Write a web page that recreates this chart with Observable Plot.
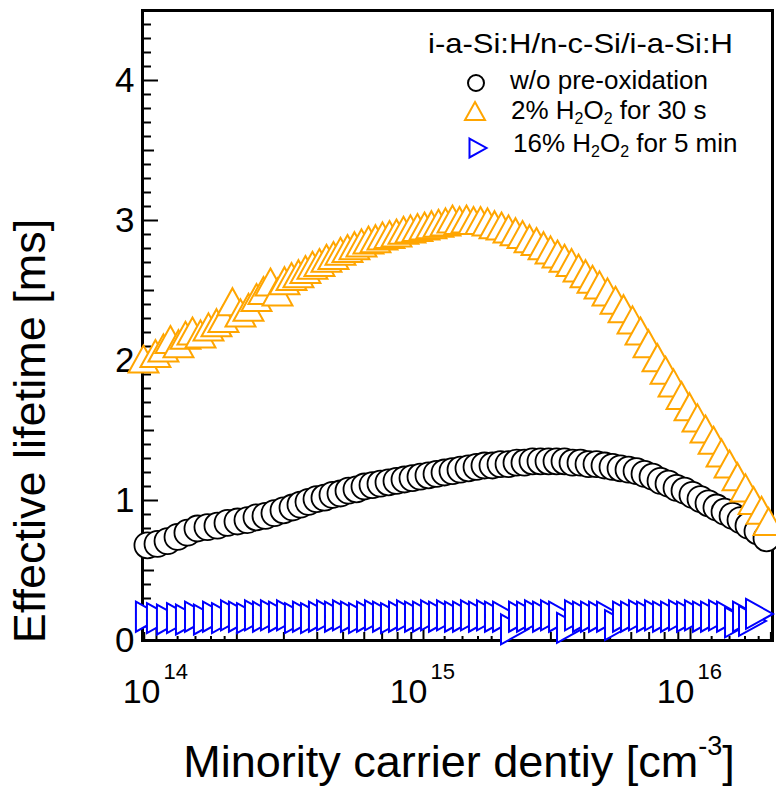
<!DOCTYPE html>
<html>
<head>
<meta charset="utf-8">
<script src="https://cdn.jsdelivr.net/npm/d3@7"></script>
<script src="https://cdn.jsdelivr.net/npm/@observablehq/plot@0.6"></script>
<style>
  body { margin: 0; background: #fff; }
  #chart { width: 776px; height: 788px; }
  #chart svg { display: block; overflow: visible; }
</style>
</head>
<body>
<div id="chart"></div>
<script>
// ---------------- data ----------------
// w/o pre-oxidation (black circles)
const circN = [9.25e13,1.009e14,1.10e14,1.199e14,1.306e14,1.424e14,1.552e14,1.692e14,1.845e14,2.011e14,2.192e14,2.369e14,2.560e14,2.766e14,2.990e14,3.232e14,3.462e14,3.709e14,3.975e14,4.258e14,4.562e14,4.888e14,5.238e14,5.612e14,6.012e14,6.442e14,6.902e14,7.395e14,7.923e14,8.489e14,9.095e14,9.745e14,1.044e15,1.119e15,1.199e15,1.284e15,1.376e15,1.474e15,1.580e15,1.692e15,1.813e15,1.943e15,2.082e15,2.230e15,2.389e15,2.560e15,2.743e15,2.939e15,3.149e15,3.374e15,3.615e15,3.873e15,4.150e15,4.446e15,4.764e15,5.104e15,5.469e15,5.860e15,6.279e15,6.727e15,7.208e15,7.722e15,8.274e15,8.865e15,9.496e15,1.017e16,1.090e16,1.168e16,1.251e16,1.341e16,1.437e16,1.539e16,1.649e16,1.782e16,1.926e16];
const circTau = [0.68,0.69,0.71,0.74,0.77,0.80,0.81,0.82,0.84,0.85,0.86,0.88,0.89,0.91,0.93,0.95,0.97,0.99,1.01,1.02,1.04,1.05,1.07,1.08,1.10,1.11,1.12,1.13,1.14,1.15,1.16,1.17,1.18,1.19,1.20,1.21,1.22,1.23,1.24,1.25,1.25,1.26,1.26,1.27,1.27,1.28,1.28,1.28,1.28,1.28,1.27,1.27,1.26,1.26,1.25,1.24,1.23,1.22,1.21,1.19,1.17,1.14,1.12,1.09,1.07,1.04,1.01,0.98,0.95,0.92,0.89,0.86,0.82,0.78,0.73];

// 2% H2O2 for 30 s (orange triangles)
const triN = [8.94e13,9.91e13,1.062e14,1.128e14,1.209e14,1.284e14,1.364e14,1.462e14,1.566e14,1.678e14,1.782e14,1.926e14,2.064e14,2.211e14,2.369e14,2.516e14,2.673e14,2.840e14,3.016e14,3.204e14,3.402e14,3.614e14,3.839e14,4.078e14,4.332e14,4.601e14,4.888e14,5.193e14,5.514e14,5.859e14,6.223e14,6.610e14,7.022e14,7.460e14,7.923e14,8.416e14,8.939e14,9.495e14,1.009e15,1.071e15,1.138e15,1.209e15,1.284e15,1.364e15,1.449e15,1.539e15,1.635e15,1.737e15,1.845e15,1.960e15,2.082e15,2.211e15,2.349e15,2.495e15,2.650e15,2.815e15,2.991e15,3.176e15,3.374e15,3.584e15,3.807e15,4.044e15,4.295e15,4.563e15,4.888e15,5.238e15,5.612e15,6.065e15,6.497e15,6.962e15,7.522e15,8.062e15,8.638e15,9.255e15,9.915e15,1.062e16,1.138e16,1.220e16,1.307e16,1.400e16,1.500e16,1.607e16,1.722e16,1.845e16,1.960e16];
const triTau = [2.01,2.05,2.09,2.15,2.12,2.18,2.21,2.19,2.24,2.27,2.30,2.42,2.34,2.38,2.45,2.50,2.56,2.49,2.57,2.60,2.62,2.65,2.68,2.70,2.73,2.75,2.78,2.80,2.82,2.84,2.86,2.87,2.89,2.90,2.91,2.93,2.94,2.95,2.96,2.97,2.98,2.99,3.01,3.00,3.01,3.00,3.00,2.99,2.97,2.96,2.94,2.92,2.90,2.87,2.85,2.82,2.79,2.76,2.73,2.70,2.66,2.62,2.58,2.54,2.49,2.43,2.37,2.29,2.21,2.12,2.02,1.93,1.84,1.75,1.67,1.59,1.51,1.43,1.34,1.26,1.17,1.09,1.00,0.93,0.85];

// 16% H2O2 for 5 min (blue right-pointing triangles)
const rtN = [9.41e13,1.035e14,1.128e14,1.230e14,1.329e14,1.437e14,1.552e14,1.678e14,1.813e14,1.960e14,2.099e14,2.249e14,2.410e14,2.582e14,2.766e14,2.964e14,3.176e14,3.402e14,3.645e14,3.906e14,4.184e14,4.484e14,4.804e14,5.147e14,5.514e14,5.908e14,6.331e14,6.783e14,7.268e14,7.787e14,8.344e14,8.939e14,9.578e14,1.026e15,1.100e15,1.178e15,1.262e15,1.352e15,1.449e15,1.552e15,1.663e15,1.782e15,1.909e15,2.046e15,2.192e15,2.349e15,2.516e15,2.696e15,2.889e15,3.095e15,3.317e15,3.553e15,3.807e15,4.079e15,4.370e15,4.682e15,5.016e15,5.375e15,5.759e15,6.170e15,6.611e15,7.083e15,7.590e15,8.132e15,8.712e15,9.333e15,1.000e16,1.071e16,1.148e16,1.230e16,1.318e16,1.412e16,1.513e16,1.621e16,1.707e16,1.813e16];
const rtTau = [0.17,0.16,0.15,0.16,0.15,0.17,0.15,0.17,0.16,0.18,0.17,0.16,0.18,0.17,0.18,0.17,0.18,0.16,0.17,0.16,0.17,0.18,0.17,0.18,0.17,0.16,0.17,0.18,0.17,0.16,0.17,0.18,0.17,0.17,0.18,0.17,0.18,0.17,0.17,0.18,0.17,0.18,0.17,0.17,0.08,0.17,0.17,0.18,0.17,0.18,0.17,0.09,0.18,0.17,0.17,0.17,0.17,0.11,0.17,0.17,0.18,0.17,0.18,0.17,0.17,0.18,0.17,0.18,0.17,0.17,0.18,0.17,0.13,0.17,0.14,0.19];

// tick labels / tick values
const yTickLabels = [0, 1, 2, 3, 4];
const xDecades = [1e14, 1e15, 1e16];
const xDecadeExp = ["14", "15", "16"];
const xMidTicks = [9e13, 2e14,3e14,4e14,5e14,6e14,7e14,8e14,9e14, 2e15,3e15,4e15,5e15,6e15,7e15,8e15,9e15, 2e16];
const xSmallTicks = [1.2e14,1.4e14,1.6e14,1.8e14, 1.2e15,1.4e15,1.6e15,1.8e15, 1.2e16,1.4e16,1.6e16,1.8e16];

const legendTitle = "i-a-Si:H/n-c-Si/i-a-Si:H";
const legendEntries = [
  [["w/o pre-oxidation", false]],
  [["2% H", false], ["2", true], ["O", false], ["2", true], [" for 30 s", false]],
  [["16% H", false], ["2", true], ["O", false], ["2", true], [" for 5 min", false]]
];
const yLabel = "Effective lifetime [ms]";
const xLabelParts = [["Minority carrier dentiy [cm", false], ["-3", true], ["]", false]];

// ---------------- build ----------------
const FONT = "'Liberation Sans', Arial, Helvetica, sans-serif";
const W = 776, H = 788, ML = 142, MR = 4, MT = 10, MB = 148;
const FW = W - ML - MR, FH = H - MT - MB;

const circles = circN.map((n, i) => ({n, tau: circTau[i]}));
const tris = triN.map((n, i) => ({n, tau: triTau[i]}));
const rts = rtN.map((n, i) => ({n, tau: rtTau[i]}));

const triUp = {
  draw(ctx, size) {
    const r = Math.sqrt(size / Math.PI);
    const w = r * 1.15, h = r * 1.04;
    ctx.moveTo(0, -h); ctx.lineTo(w, h); ctx.lineTo(-w, h); ctx.closePath();
  }
};
const triRight = {
  draw(ctx, size) {
    const r = Math.sqrt(size / Math.PI);
    const w = r * 1.0, h = r * 1.11;
    ctx.moveTo(-w, -h); ctx.lineTo(w, 0); ctx.lineTo(-w, h); ctx.closePath();
  }
};

const yAll = d3.range(1, 45).map(i => i / 10);
const yMinor = yAll.filter(v => Math.abs(v * 2 - Math.round(v * 2)) > 1e-6);
const yHalf = [0.5, 1.5, 2.5, 3.5];
const yMajor = [1, 2, 3, 4];

const chart = Plot.plot({
  width: W, height: H,
  marginLeft: ML, marginRight: MR, marginTop: MT, marginBottom: MB,
  x: {type: "log", domain: [8.865e13, 2.028e16], axis: null},
  y: {domain: [0, 4.5], axis: null},
  style: {fontFamily: FONT, background: "white", color: "black", overflow: "visible"},
  marks: [
    // inward ticks, left axis
    Plot.ruleY(yMinor, {y: d => d, insetRight: FW - 9, stroke: "black", strokeWidth: 2}),
    Plot.ruleY(yHalf, {y: d => d, insetRight: FW - 12, stroke: "black", strokeWidth: 2}),
    Plot.ruleY(yMajor, {y: d => d, insetRight: FW - 16, stroke: "black", strokeWidth: 2}),
    // inward ticks, bottom axis
    Plot.ruleX(xSmallTicks, {x: d => d, insetTop: FH - 4, stroke: "black", strokeWidth: 2}),
    Plot.ruleX(xMidTicks, {x: d => d, insetTop: FH - 8, stroke: "black", strokeWidth: 2}),
    Plot.ruleX(xDecades, {x: d => d, insetTop: FH - 12, stroke: "black", strokeWidth: 2}),
    Plot.frame({stroke: "black", strokeWidth: 3}),
    // tick labels
    Plot.text(yTickLabels, {y: d => d, text: d => String(d), frameAnchor: "left", textAnchor: "end", dx: -8, fontSize: 35, fill: "black"}),
    Plot.text(xDecades, {x: d => d, text: () => "10", frameAnchor: "bottom", textAnchor: "end", lineAnchor: "bottom", dx: 4, dy: 62, fontSize: 34, fill: "black"}),
    Plot.text(xDecades, {x: d => d, text: (d, i) => xDecadeExp[i], frameAnchor: "bottom", textAnchor: "start", lineAnchor: "bottom", dx: 7, dy: 38, fontSize: 22, fill: "black"}),
    // data
    Plot.dot(circles, {x: "n", y: "tau", r: 13, symbol: "circle", stroke: "black", fill: "white", strokeWidth: 1.8}),
    Plot.dot(tris, {x: "n", y: "tau", r: 13, symbol: triUp, stroke: "#FFA500", fill: "white", strokeWidth: 2}),
    Plot.dot(rts, {x: "n", y: "tau", r: 13.5, symbol: triRight, stroke: "#0000FF", fill: "white", strokeWidth: 2})
  ]
});
document.getElementById("chart").appendChild(chart);

// ---------------- axis titles & legend (text) ----------------
const svg = d3.select(chart);
const g = svg.append("g").attr("font-family", FONT).attr("fill", "black").attr("text-anchor", "start");

function richText(sel, parts, supSize, shift) {
  let cur = 0;
  for (const [s, small] of parts) {
    const t = sel.append("tspan").text(s);
    if (small) { t.attr("font-size", supSize).attr("dy", shift - cur); cur = shift; }
    else { t.attr("dy", -cur); cur = 0; }
  }
}

// y title
g.append("text")
  .attr("transform", "translate(45,431) rotate(-90)")
  .attr("text-anchor", "middle")
  .attr("font-size", 45)
  .text(yLabel);

// x title with superscript
const xt = g.append("text").attr("x", 459).attr("y", 777).attr("text-anchor", "middle").attr("font-size", 45);
richText(xt, xLabelParts, 27, -22);

// legend
g.append("text").attr("x", 428).attr("y", 53).attr("font-size", 28).attr("text-anchor", "start")
  .attr("textLength", 305).attr("lengthAdjust", "spacingAndGlyphs").text(legendTitle);

const legendY = [89, 119, 152];
const legendX = [510, 511, 513];
legendEntries.forEach((parts, i) => {
  const t = g.append("text").attr("x", legendX[i]).attr("y", legendY[i]).attr("font-size", 26).attr("text-anchor", "start");
  richText(t, parts, 16, 5);
});
// legend markers
g.append("circle").attr("cx", 476).attr("cy", 83).attr("r", 8)
  .attr("fill", "white").attr("stroke", "black").attr("stroke-width", 2);
g.append("path").attr("transform", "translate(475,111)")
  .attr("d", d3.symbol(triUp, Math.PI * 8.7 * 8.7)())
  .attr("fill", "white").attr("stroke", "#FFA500").attr("stroke-width", 2);
g.append("path").attr("transform", "translate(478,148)")
  .attr("d", d3.symbol(triRight, Math.PI * 8.5 * 8.5)())
  .attr("fill", "white").attr("stroke", "#0000FF").attr("stroke-width", 2);
</script>
</body>
</html>
